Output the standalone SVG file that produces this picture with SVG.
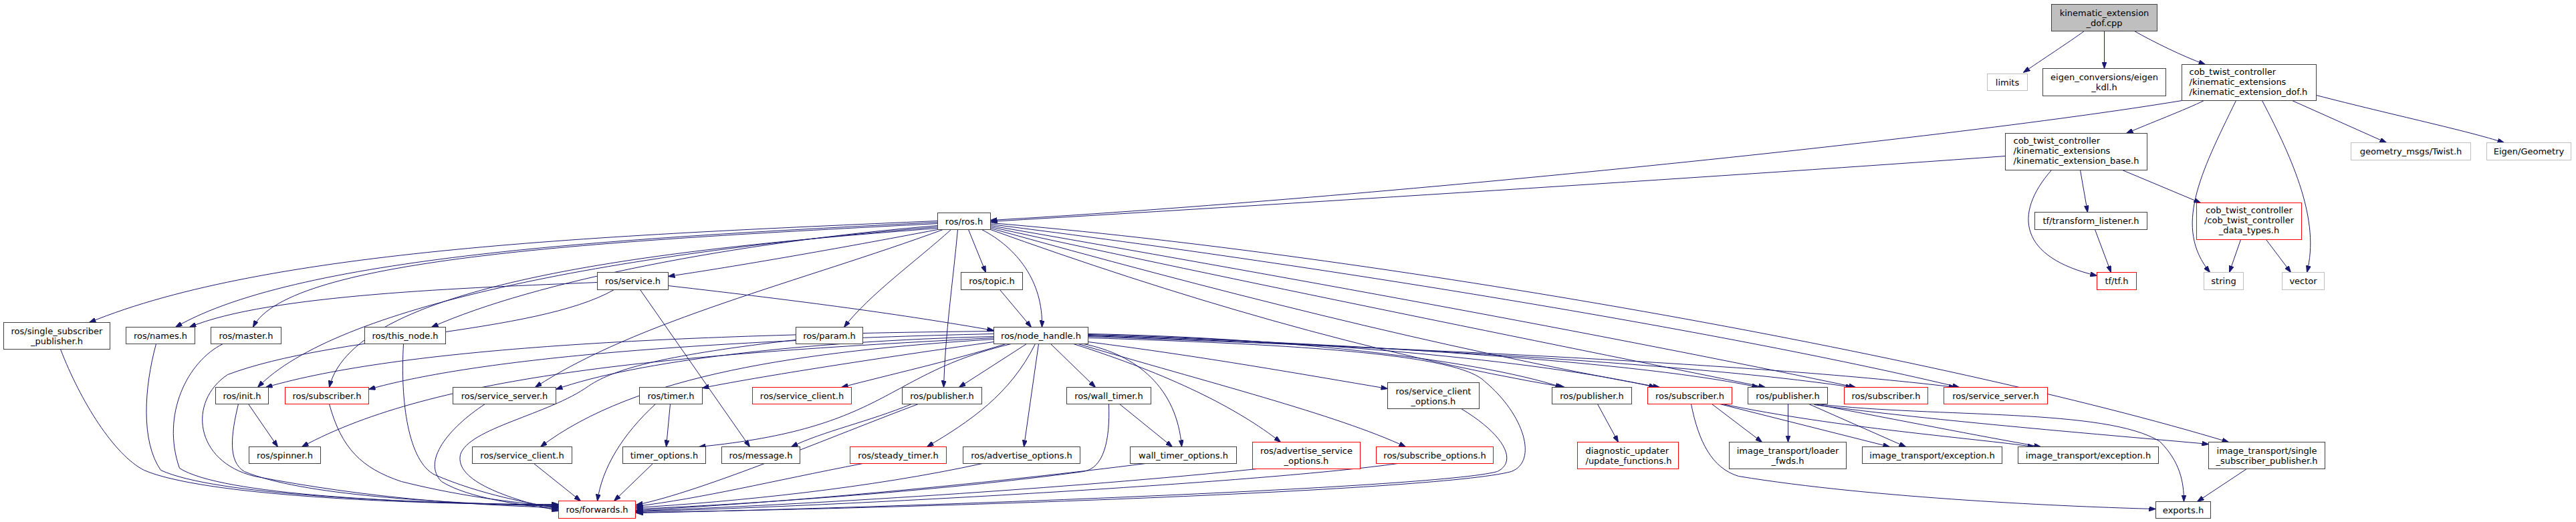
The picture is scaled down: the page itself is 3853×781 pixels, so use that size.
<svg xmlns="http://www.w3.org/2000/svg" width="3853" height="781" viewBox="0 0 3853 781">
<style>
rect{fill:#fff;stroke:#404040;stroke-width:1}
.root rect{fill:#bfbfbf}
.ext rect{stroke:#bfbfbf}
.tr rect{stroke:#ff0000}
text{font-family:"DejaVu Sans",Verdana,sans-serif;font-size:13px;fill:#000}
.c{text-anchor:middle}
#edges path{fill:none;stroke:#191970;stroke-width:1;marker-end:url(#a)}
</style>
<defs>
<marker id="a" viewBox="0 0 10 7" refX="10" refY="3.5" markerWidth="10" markerHeight="7" markerUnits="userSpaceOnUse" orient="auto">
<path d="M0,0 L10,3.5 L0,7 z" fill="#191970" stroke="#191970"/>
</marker>
</defs>
<rect x="0" y="0" width="3853" height="781" style="fill:#fff;stroke:none"/>
<g transform="translate(0.5,0.5)">
<g id="edges">
<path d="M3117,46 C3095,62 3052,90 3026,108"/>
<path d="M3147,46 L3147,102"/>
<path d="M3192,46 C3220,62 3265,84 3298,96"/>
<path d="M3296,150 C3270,163 3212,185 3180,199"/>
<path d="M3263,150 C2900,210 2000,300 1481,329"/>
<path d="M2999,233 C2600,262 2000,300 1481,331"/>
<path d="M3344,150 C3290,260 3250,340 3305,407"/>
<path d="M3383,150 C3430,240 3470,330 3450,407"/>
<path d="M3428,150 L3569,213"/>
<path d="M3464,142 C3580,172 3690,195 3745,213"/>
<path d="M3174,254 L3291,303"/>
<path d="M3111,254 L3122,317"/>
<path d="M3068,254 C3010,320 3020,385 3136,412"/>
<path d="M3133,343 L3157,407"/>
<path d="M3351,358 L3334,407"/>
<path d="M3389,358 L3426,407"/>
<path d="M1402,330 C900,352 400,372 133,482"/>
<path d="M1402,332 C950,355 450,380 262,489"/>
<path d="M1402,334 C900,360 430,385 378,489"/>
<path d="M1402,337 C1100,362 800,420 645,489"/>
<path d="M1402,339 C900,380 500,460 385,579"/>
<path d="M1402,341 C1000,372 530,420 492,579"/>
<path d="M1402,343 C1250,372 1100,398 999,413"/>
<path d="M1410,343 C1200,420 950,480 800,579"/>
<path d="M1422,343 C1370,390 1300,440 1262,489"/>
<path d="M1432,343 C1425,420 1413,500 1411,579"/>
<path d="M1448,343 L1474,407"/>
<path d="M1468,343 C1520,370 1560,420 1558,489"/>
<path d="M1481,333 C2050,380 2900,530 3333,661"/>
<path d="M1481,335 C2000,400 2600,500 2930,579"/>
<path d="M1481,337 C1900,410 2400,500 2775,579"/>
<path d="M1481,339 C1850,420 2300,510 2640,579"/>
<path d="M1481,341 C1800,430 2150,520 2482,579"/>
<path d="M1481,343 C1750,440 2050,530 2340,579"/>
<path d="M1627,499 C1900,504 2200,535 2336,579"/>
<path d="M1627,500 C1950,508 2300,538 2476,579"/>
<path d="M1627,501 C2000,512 2450,540 2630,579"/>
<path d="M1627,502 C2050,516 2550,545 2770,579"/>
<path d="M1627,503 C2100,520 2650,545 2924,579"/>
<path d="M1627,511 C1800,533 1950,560 2075,581"/>
<path d="M1612,514 C1800,570 2000,620 2102,668"/>
<path d="M1605,514 C1750,560 1850,610 1915,661"/>
<path d="M1620,514 C1700,530 1760,580 1767,668"/>
<path d="M1571,514 L1638,579"/>
<path d="M1553,514 L1531,668"/>
<path d="M1548,514 C1510,590 1450,630 1386,668"/>
<path d="M1535,514 L1434,579"/>
<path d="M1504,514 C1420,540 1330,560 1258,579"/>
<path d="M1486,511 C1350,530 1150,560 1050,580"/>
<path d="M1512,514 C1320,560 1330,640 1045,668"/>
<path d="M1486,507 C1200,525 950,560 808,668"/>
<path d="M1486,503 C1200,510 950,540 831,582"/>
<path d="M1486,495 C1000,500 600,520 397,579"/>
<path d="M1486,499 C1000,510 700,540 551,582"/>
<path d="M1486,505 C1000,530 650,560 451,668"/>
<path d="M1627,505 C1950,515 2180,530 2220,570 C2280,620 2300,690 2260,705 C2150,735 1300,762 951,766"/>
<path d="M893,422 C700,430 400,440 283,489"/>
<path d="M999,427 C1200,450 1350,470 1486,494"/>
<path d="M957,433 L1121,668"/>
<path d="M918,433 C800,500 500,500 340,560 C280,600 290,690 380,712 C550,745 700,755 835,759"/>
<path d="M1495,433 L1542,489"/>
<path d="M371,604 L415,668"/>
<path d="M1002,604 L996,668"/>
<path d="M2389,604 L2420,661"/>
<path d="M2560,604 L2635,661"/>
<path d="M2572,604 L2826,668"/>
<path d="M2576,604 C2750,640 2950,655 3042,668"/>
<path d="M2529,604 C2540,660 2560,700 2600,712 C2800,745 3100,758 3224,761"/>
<path d="M2674,604 L2674,661"/>
<path d="M2705,604 L2850,668"/>
<path d="M2713,604 C2850,630 2950,650 3052,668"/>
<path d="M2717,604 C2900,625 3150,610 3230,660 C3260,690 3266,720 3266,750"/>
<path d="M2713,605 C2900,630 3150,650 3303,664"/>
<path d="M3360,701 L3286,750"/>
<path d="M90,522 C120,600 170,680 215,703 C300,740 600,755 835,754"/>
<path d="M233,514 C215,580 210,660 240,703 C320,740 600,752 835,755"/>
<path d="M333,514 C280,540 240,620 268,700 C330,740 600,752 835,756"/>
<path d="M356,604 C345,650 340,690 365,705 C450,740 650,752 835,757"/>
<path d="M492,604 C510,670 540,700 600,720 C700,745 780,752 835,758"/>
<path d="M603,514 C598,600 610,690 650,710 C720,740 790,752 835,760"/>
<path d="M725,604 C670,640 630,690 660,720 C700,745 780,755 835,762"/>
<path d="M798,693 L868,749"/>
<path d="M980,604 C930,650 900,700 893,749"/>
<path d="M976,693 L918,749"/>
<path d="M1190,508 C1000,530 920,550 880,577 C820,620 700,640 688,680 C680,720 760,745 835,764"/>
<path d="M1373,604 C1250,650 1050,735 951,755"/>
<path d="M1363,604 C1300,630 1230,645 1183,668"/>
<path d="M1290,693 C1150,720 1050,745 951,757"/>
<path d="M1469,693 C1300,730 1100,750 951,759"/>
<path d="M1658,604 C1660,660 1650,700 1620,705 C1400,735 1100,755 951,761"/>
<path d="M1674,604 L1753,668"/>
<path d="M1713,693 C1500,720 1200,750 951,763"/>
<path d="M1880,701 C1600,730 1200,755 951,764"/>
<path d="M2090,693 C1900,720 1300,755 951,765"/>
<path d="M2185,611 C2250,650 2270,690 2239,705 C2150,730 1300,760 951,767"/>
</g>
<g id="n_top" class="root"><rect x="3068" y="6" width="158" height="40"/><text class="c" x="3147" y="23">kinematic_extension</text><text class="c" x="3147" y="38">_dof.cpp</text></g>
<g id="n_limits" class="ext"><rect x="2972" y="110" width="60" height="25"/><text class="c" x="3002" y="127">limits</text></g>
<g id="n_eigenkdl"><rect x="3055" y="102" width="184" height="41"/><text class="c" x="3147" y="119">eigen_conversions/eigen</text><text class="c" x="3147" y="134">_kdl.h</text></g>
<g id="n_dof"><rect x="3263" y="96" width="201" height="54"/><text x="3274" y="111.5">cob_twist_controller</text><text x="3274" y="126.5">/kinematic_extensions</text><text x="3274" y="141.5">/kinematic_extension_dof.h</text></g>
<g id="n_base"><rect x="2999" y="199" width="212" height="55"/><text x="3011" y="214.5">cob_twist_controller</text><text x="3011" y="229.5">/kinematic_extensions</text><text x="3011" y="244.5">/kinematic_extension_base.h</text></g>
<g id="n_geom" class="ext"><rect x="3516" y="213" width="179" height="26"/><text class="c" x="3605.5" y="230.5">geometry_msgs/Twist.h</text></g>
<g id="n_eigengeo" class="ext"><rect x="3719" y="213" width="126" height="26"/><text class="c" x="3782" y="230.5">Eigen/Geometry</text></g>
<g id="n_ros"><rect x="1402" y="318" width="79" height="25"/><text class="c" x="1441.5" y="335">ros/ros.h</text></g>
<g id="n_tflisten"><rect x="3043" y="317" width="168" height="26"/><text class="c" x="3127" y="334.5">tf/transform_listener.h</text></g>
<g id="n_datatypes" class="tr"><rect x="3285" y="303" width="157" height="55"/><text class="c" x="3363.5" y="318.5">cob_twist_controller</text><text class="c" x="3363.5" y="333.5">/cob_twist_controller</text><text class="c" x="3363.5" y="348.5">_data_types.h</text></g>
<g id="n_service"><rect x="893" y="407" width="106" height="26"/><text class="c" x="946" y="424.5">ros/service.h</text></g>
<g id="n_topic"><rect x="1437" y="407" width="92" height="26"/><text class="c" x="1483" y="424.5">ros/topic.h</text></g>
<g id="n_tf" class="tr"><rect x="3136" y="407" width="59" height="26"/><text class="c" x="3165.5" y="424.5">tf/tf.h</text></g>
<g id="n_string" class="ext"><rect x="3296" y="407" width="59" height="26"/><text class="c" x="3325.5" y="424.5">string</text></g>
<g id="n_vector" class="ext"><rect x="3413" y="407" width="63" height="26"/><text class="c" x="3444.5" y="424.5">vector</text></g>
<g id="n_ssp"><rect x="5" y="482" width="159" height="40"/><text class="c" x="84.5" y="499">ros/single_subscriber</text><text class="c" x="84.5" y="514">_publisher.h</text></g>
<g id="n_names"><rect x="188" y="489" width="103" height="25"/><text class="c" x="239.5" y="506">ros/names.h</text></g>
<g id="n_master"><rect x="315" y="489" width="105" height="25"/><text class="c" x="367.5" y="506">ros/master.h</text></g>
<g id="n_thisnode"><rect x="545" y="489" width="121" height="25"/><text class="c" x="605.5" y="506">ros/this_node.h</text></g>
<g id="n_param"><rect x="1190" y="489" width="100" height="25"/><text class="c" x="1240" y="506">ros/param.h</text></g>
<g id="n_nh"><rect x="1486" y="489" width="141" height="25"/><text class="c" x="1556.5" y="506">ros/node_handle.h</text></g>
<g id="n_init"><rect x="322" y="579" width="79" height="25"/><text class="c" x="361.5" y="596">ros/init.h</text></g>
<g id="n_sub1" class="tr"><rect x="426" y="579" width="125" height="25"/><text class="c" x="488.5" y="596">ros/subscriber.h</text></g>
<g id="n_ss1"><rect x="677" y="579" width="154" height="25"/><text class="c" x="754" y="596">ros/service_server.h</text></g>
<g id="n_timer"><rect x="956" y="579" width="94" height="25"/><text class="c" x="1003" y="596">ros/timer.h</text></g>
<g id="n_sc1" class="tr"><rect x="1125" y="579" width="148" height="25"/><text class="c" x="1199" y="596">ros/service_client.h</text></g>
<g id="n_pub1"><rect x="1349" y="579" width="119" height="25"/><text class="c" x="1408.5" y="596">ros/publisher.h</text></g>
<g id="n_walltimer"><rect x="1595" y="579" width="126" height="25"/><text class="c" x="1658" y="596">ros/wall_timer.h</text></g>
<g id="n_sco"><rect x="2075" y="572" width="137" height="39"/><text class="c" x="2143.5" y="589">ros/service_client</text><text class="c" x="2143.5" y="604">_options.h</text></g>
<g id="n_pub2"><rect x="2321" y="579" width="119" height="25"/><text class="c" x="2380.5" y="596">ros/publisher.h</text></g>
<g id="n_sub2" class="tr"><rect x="2464" y="579" width="126" height="25"/><text class="c" x="2527" y="596">ros/subscriber.h</text></g>
<g id="n_pub3"><rect x="2614" y="579" width="119" height="25"/><text class="c" x="2673.5" y="596">ros/publisher.h</text></g>
<g id="n_sub3" class="tr"><rect x="2758" y="579" width="125" height="25"/><text class="c" x="2820.5" y="596">ros/subscriber.h</text></g>
<g id="n_ss2" class="tr"><rect x="2907" y="579" width="155" height="25"/><text class="c" x="2984.5" y="596">ros/service_server.h</text></g>
<g id="n_spinner"><rect x="372" y="668" width="107" height="25"/><text class="c" x="425.5" y="685">ros/spinner.h</text></g>
<g id="n_sc2"><rect x="706" y="668" width="149" height="25"/><text class="c" x="780.5" y="685">ros/service_client.h</text></g>
<g id="n_timeropt"><rect x="931" y="668" width="124" height="25"/><text class="c" x="993" y="685">timer_options.h</text></g>
<g id="n_message"><rect x="1079" y="668" width="117" height="25"/><text class="c" x="1137.5" y="685">ros/message.h</text></g>
<g id="n_steady" class="tr"><rect x="1271" y="668" width="144" height="25"/><text class="c" x="1343" y="685">ros/steady_timer.h</text></g>
<g id="n_advopt"><rect x="1440" y="668" width="175" height="25"/><text class="c" x="1527.5" y="685">ros/advertise_options.h</text></g>
<g id="n_wtopt"><rect x="1690" y="668" width="159" height="25"/><text class="c" x="1769.5" y="685">wall_timer_options.h</text></g>
<g id="n_asvo" class="tr"><rect x="1873" y="661" width="161" height="40"/><text class="c" x="1953.5" y="678">ros/advertise_service</text><text class="c" x="1953.5" y="693">_options.h</text></g>
<g id="n_subopt" class="tr"><rect x="2058" y="668" width="175" height="25"/><text class="c" x="2145.5" y="685">ros/subscribe_options.h</text></g>
<g id="n_diag" class="tr"><rect x="2359" y="661" width="151" height="40"/><text x="2371" y="678">diagnostic_updater</text><text x="2371" y="693">/update_functions.h</text></g>
<g id="n_loader"><rect x="2586" y="661" width="175" height="40"/><text class="c" x="2673.5" y="678">image_transport/loader</text><text class="c" x="2673.5" y="693">_fwds.h</text></g>
<g id="n_exc1"><rect x="2785" y="668" width="209" height="25"/><text class="c" x="2889.5" y="685">image_transport/exception.h</text></g>
<g id="n_exc2"><rect x="3018" y="668" width="210" height="25"/><text class="c" x="3123" y="685">image_transport/exception.h</text></g>
<g id="n_imgssp"><rect x="3303" y="661" width="174" height="40"/><text class="c" x="3390" y="678">image_transport/single</text><text class="c" x="3390" y="693">_subscriber_publisher.h</text></g>
<g id="n_forwards" class="tr"><rect x="835" y="749" width="115" height="26"/><text class="c" x="892.5" y="766.5">ros/forwards.h</text></g>
<g id="n_exports"><rect x="3224" y="750" width="82" height="25"/><text class="c" x="3265" y="767">exports.h</text></g>
</g>
</svg>
